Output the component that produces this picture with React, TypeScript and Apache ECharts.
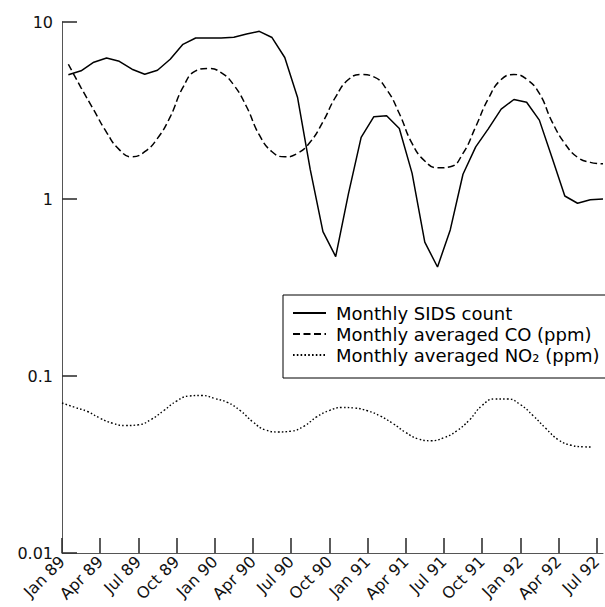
import React, { useEffect, useRef } from 'react';
import * as echarts from 'echarts';

// Tick labels every 3 months (month index 0 = Jan 89)
const TICK_MONTHS = [0, 3, 6, 9, 12, 15, 18, 21, 24, 27, 30, 33, 36, 39, 42];
const TICK_LABELS = ['Jan 89', 'Apr 89', 'Jul 89', 'Oct 89', 'Jan 90', 'Apr 90', 'Jul 90', 'Oct 90', 'Jan 91', 'Apr 91', 'Jul 91', 'Oct 91', 'Jan 92', 'Apr 92', 'Jul 92'];
const Y_TICKS = [0.01, 0.1, 1, 10];

// Monthly values Jan 89 .. Jul 92 (plotted at mid-month)
const SIDS = [5.04, 5.3, 5.93, 6.26, 6.0, 5.41, 5.07, 5.34, 6.16, 7.48, 8.12, 8.12, 8.12, 8.2, 8.56, 8.86, 8.17, 6.3, 3.76, 1.47, 0.654, 0.473, 1.07, 2.23, 2.92, 2.95, 2.5, 1.4, 0.57, 0.413, 0.669, 1.38, 1.97, 2.5, 3.22, 3.65, 3.52, 2.79, 1.71, 1.04, 0.946, 0.99, 1.0];
const CO = [5.77, 4.25, 3.18, 2.38, 1.9, 1.73, 1.85, 2.2, 2.91, 4.27, 5.29, 5.46, 5.18, 4.4, 3.32, 2.3, 1.85, 1.73, 1.81, 2.1, 2.73, 3.78, 4.73, 5.05, 4.9, 4.16, 3.04, 2.06, 1.64, 1.5, 1.52, 1.81, 2.56, 3.7, 4.73, 5.05, 4.75, 3.95, 2.73, 2.06, 1.72, 1.61, 1.58];

// NO2 (ppm) sampled at month starts
const NO2_MONTHS = [0, 1, 2, 3, 4, 5, 6, 7, 8, 9, 10, 11, 12, 13, 14, 15, 16, 17, 18, 19, 20, 21, 22, 23, 24, 25, 26, 27, 28, 29, 30, 31, 32, 33, 34, 35, 36, 37, 38, 39, 40, 41, 41.6];
const NO2 = [0.0704, 0.0665, 0.063, 0.0577, 0.054, 0.0525, 0.053, 0.0568, 0.0638, 0.0722, 0.0771, 0.0776, 0.0746, 0.0709, 0.0638, 0.055, 0.0495, 0.0483, 0.0488, 0.052, 0.0587, 0.0638, 0.0664, 0.0659, 0.0636, 0.0594, 0.0539, 0.048, 0.0441, 0.0431, 0.0448, 0.0489, 0.0564, 0.0681, 0.0742, 0.0742, 0.069, 0.0598, 0.0506, 0.0436, 0.0406, 0.0398, 0.0397];

const NAMES = ['Monthly SIDS count', 'Monthly averaged CO (ppm)', 'Monthly averaged NO₂ (ppm)'];
const FONT = 'DejaVu Sans';

export default function App() {
  const ref = useRef<HTMLDivElement>(null);
  useEffect(() => {
    if (!ref.current) return;
    const chart = echarts.init(ref.current, null, { renderer: 'svg' });
    const axisColor = '#555';
    const tickColor = '#333333';
    chart.setOption({
      animation: false,
      backgroundColor: '#fff',
      textStyle: { fontFamily: FONT },
      grid: { left: 62, right: 2, top: 22, bottom: 54, containLabel: false },
      xAxis: {
        type: 'value',
        min: 0,
        max: 42.5,
        interval: 3,
        axisLine: { show: true, lineStyle: { color: axisColor, width: 1 } },
        axisTick: { show: true, inside: true, length: 15, customValues: TICK_MONTHS, lineStyle: { color: tickColor, width: 1.6 } },
        axisLabel: {
          customValues: TICK_MONTHS,
          rotate: 45,
          margin: 6,
          color: '#111',
          fontSize: 16,
          fontFamily: FONT,
          formatter: (v: number) => {
            const k = TICK_MONTHS.indexOf(Math.round(v));
            return k >= 0 ? TICK_LABELS[k] : '';
          },
        },
        splitLine: { show: false },
      },
      yAxis: {
        type: 'log',
        logBase: 10,
        min: 0.01,
        max: 10,
        axisLine: { show: true, lineStyle: { color: axisColor, width: 1 } },
        axisTick: { show: false },
        axisLabel: { color: '#111', fontSize: 16, margin: 9, fontFamily: FONT },
        splitLine: { show: false },
        minorTick: { show: false },
      },
      legend: {
        orient: 'vertical',
        left: 283,
        top: 295,
        padding: [9, 40, 14, 9],
        itemWidth: 33,
        itemHeight: 14,
        itemGap: 3,
        borderColor: '#000',
        borderWidth: 1,
        backgroundColor: '#fff',
        itemStyle: { opacity: 0 },
        data: NAMES,
        textStyle: {
          color: '#000',
          fontFamily: FONT,
          fontSize: 18,
          lineHeight: 18,
          padding: [0, 0, 0, 5],
        },
      },
      series: [
        {
          name: NAMES[0],
          type: 'line',
          symbol: 'none',
          data: SIDS.map((v, i) => [i + 0.5, v]),
          lineStyle: { color: '#000', width: 1.5, type: 'solid' },
          itemStyle: { color: '#000' },
        },
        {
          name: NAMES[1],
          type: 'line',
          symbol: 'none',
          smooth: 0.5,
          data: CO.map((v, i) => [i + 0.5, v]),
          lineStyle: { color: '#000', width: 1.5, type: [7, 3.5] },
          itemStyle: { color: '#000' },
        },
        {
          name: NAMES[2],
          type: 'line',
          symbol: 'none',
          smooth: 0.5,
          data: NO2.map((v, i) => [NO2_MONTHS[i], v]),
          lineStyle: { color: '#000', width: 1.4, type: [1.6, 2.2] },
          itemStyle: { color: '#000' },
        },
      ],
    });
    // Y-axis ticks (inside, 15px) placed through the axis' own scale
    const x0 = chart.convertToPixel({ xAxisIndex: 0 }, 0) as number;
    chart.setOption({
      graphic: Y_TICKS.map((t) => {
        const y = chart.convertToPixel({ yAxisIndex: 0 }, t) as number;
        return {
          type: 'line',
          z: 100,
          silent: true,
          shape: { x1: x0, y1: y, x2: x0 + 15, y2: y },
          style: { stroke: tickColor, lineWidth: 1.6 },
        };
      }),
    });
    return () => chart.dispose();
  }, []);
  return <div ref={ref} style={{ position: 'absolute', left: 0, top: 0, width: 605, height: 607 }} />;
}
